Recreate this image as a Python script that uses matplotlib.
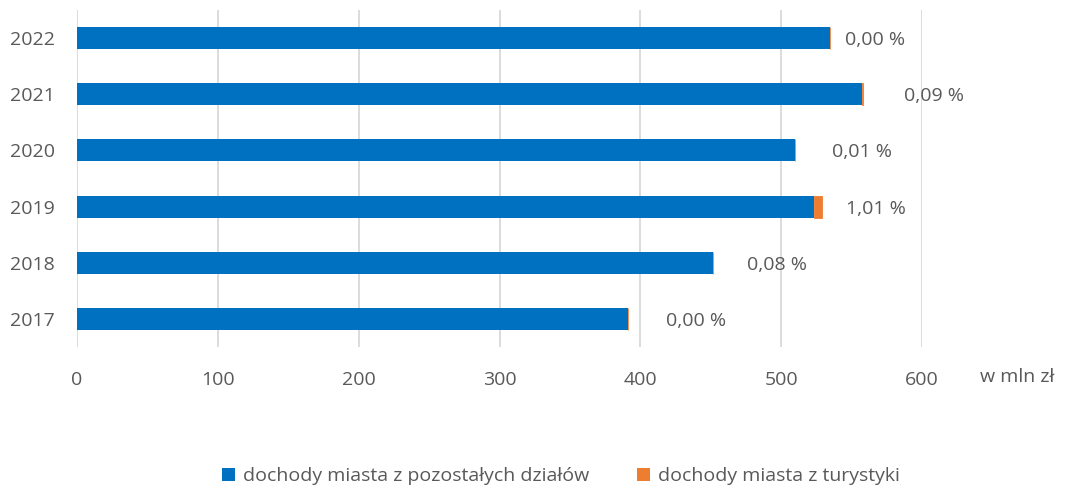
import matplotlib
matplotlib.use("Agg")
import matplotlib.pyplot as plt
from matplotlib.patches import Patch

plt.rcParams['font.family'] = ['Open Sans', 'DejaVu Sans']

years = ["2017", "2018", "2019", "2020", "2021", "2022"]
other_income = [391.0, 451.5, 523.6, 510.0, 557.5, 535.0]
tourism_income = [0.01, 0.36, 5.34, 0.05, 0.50, 0.02]
series_names = ["dochody miasta z pozostałych działów", "dochody miasta z turystyki"]
x_ticks = [0, 100, 200, 300, 400, 500, 600]
unit_label = "w mln zł"

BLUE = "#0070C0"
ORANGE = "#ED7D31"
TXT = "#595959"
GRID = "#D9D9D9"

# pixel offsets of the percentage labels (style only)
label_dx = [38, 34, 24, 37, 41, 15]

fig = plt.figure(figsize=(10.66, 4.91), dpi=100)
ax = fig.add_axes([77/1066, 1-347/491, (922-77)/1066, (347-10)/491])

ypos = list(range(len(years)))
ax.barh(ypos, other_income, height=0.39, color=BLUE, zorder=3)
ax.barh(ypos, tourism_income, left=other_income, height=0.39, color=ORANGE,
        edgecolor=ORANGE, linewidth=0.6, zorder=3)

ax.set_xlim(0, 600)
ax.set_ylim(-0.5, len(years) - 0.5)
ax.set_xticks(x_ticks)
ax.set_xticklabels([str(v) for v in x_ticks])
ax.set_yticks(ypos)
ax.set_yticklabels(years)
ax.tick_params(axis='both', length=0, labelsize=14, colors=TXT)
ax.tick_params(axis='x', pad=17)
ax.tick_params(axis='y', pad=16)
ax.grid(axis='x', color=GRID, linewidth=1.3, zorder=0)
for s in ax.spines.values():
    s.set_visible(False)

for i, (o, t) in enumerate(zip(other_income, tourism_income)):
    total = o + t
    pct = t / total * 100
    txt = f"{pct:.2f}".replace(".", ",") + " %"
    ax.annotate(txt, xy=(total, i), xytext=(label_dx[i], -2), textcoords='offset pixels',
                ha='left', va='center', fontsize=14, fontstretch='normal', color=TXT,
                annotation_clip=False)

fig.text(980/1066, 1-377/491, unit_label, ha='left', va='center', fontsize=14,
         fontstretch='normal', color=TXT)

handles = [Patch(facecolor=BLUE, edgecolor='none'), Patch(facecolor=ORANGE, edgecolor='none')]
fig.legend(handles, series_names, loc='center', bbox_to_anchor=(561/1066, 1-476/491), ncol=2,
           frameon=False, fontsize=14, labelcolor=TXT, handlelength=0.65, handleheight=0.65,
           handletextpad=0.4, columnspacing=2.5)

fig.savefig("out.png", dpi=100)
